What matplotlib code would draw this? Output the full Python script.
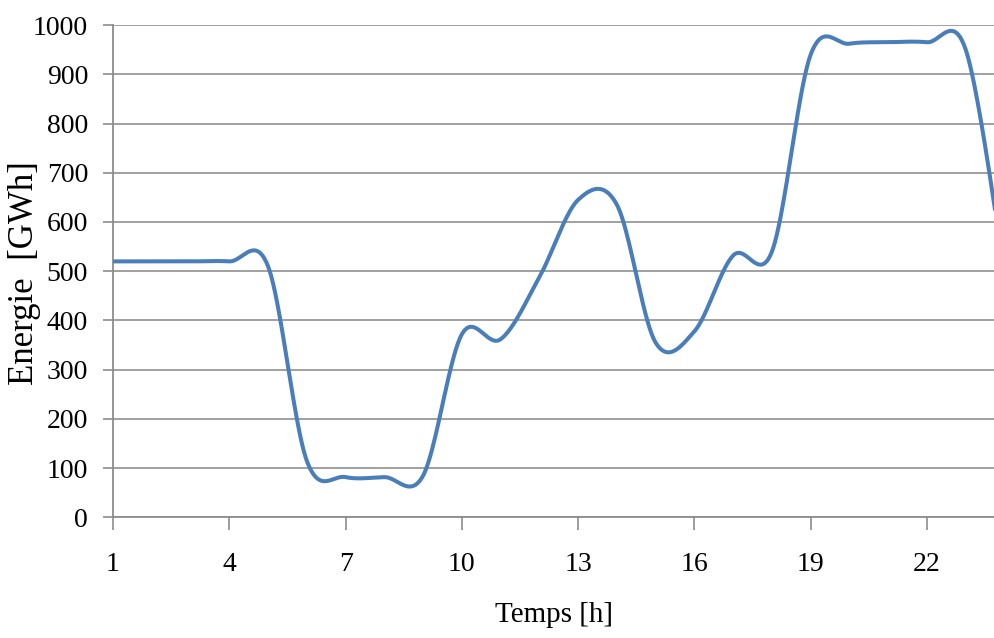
import matplotlib.pyplot as plt
import numpy as np

heures = list(range(1, 25))
energie = [520, 520, 520, 520, 510, 115, 82, 82, 85, 372, 362, 488,
           645, 635, 355, 378, 532, 540, 940, 962, 965, 965, 950, 500]
xticks = [1, 4, 7, 10, 13, 16, 19, 22]
yticks = list(range(0, 1001, 100))


def lissage_excel(x, y, n=40):
    # courbe lissee type Excel (Bezier, tangentes de Catmull-Rom)
    x = np.asarray(x, float)
    y = np.asarray(y, float)
    px = np.concatenate([[x[0]], x, [x[-1]]])
    py = np.concatenate([[y[0]], y, [y[-1]]])
    xs, ys = [], []
    t = np.linspace(0, 1, n)[:, None]
    for i in range(1, len(px) - 2):
        p0 = np.array([px[i], py[i]])
        p3 = np.array([px[i + 1], py[i + 1]])
        c1 = p0 + (np.array([px[i + 1], py[i + 1]]) - np.array([px[i - 1], py[i - 1]])) / 6
        c2 = p3 - (np.array([px[i + 2], py[i + 2]]) - p0) / 6
        b = (1 - t) ** 3 * p0 + 3 * (1 - t) ** 2 * t * c1 + 3 * (1 - t) * t ** 2 * c2 + t ** 3 * p3
        xs.extend(b[:, 0])
        ys.extend(b[:, 1])
    return xs, ys


plt.rcParams['font.family'] = ['Liberation Serif', 'DejaVu Serif']

fig = plt.figure(figsize=(9.95, 6.38), dpi=100)
ax = fig.add_axes([0.1136, 0.1889, 0.8864, 0.7719])

xs, ys = lissage_excel(heures, energie)
ax.plot(xs, ys, color='#4a7ebb', linewidth=2.9, solid_capstyle='round', zorder=3)

ax.set_xlim(1, 1 + 882 / 38.76)
ax.set_ylim(0, 1000)
ax.set_xticks(xticks)
ax.set_yticks(yticks)
ax.yaxis.grid(True, color='#a0a0a0', linewidth=1.4)
ax.set_axisbelow(True)

for s in ['top', 'right']:
    ax.spines[s].set_visible(False)
for s in ['left', 'bottom']:
    ax.spines[s].set_color('#8c8c8c')
    ax.spines[s].set_linewidth(1.3)

ax.tick_params(axis='y', direction='out', length=7, width=1.2, color='#8c8c8c',
               pad=11, labelsize=20)
ax.tick_params(axis='x', direction='out', length=9, width=1.2, color='#8c8c8c',
               pad=16, labelsize=20)

ax.set_xlabel('Temps [h]', fontsize=21, va='top')
ax.xaxis.set_label_coords(0.5, -0.172)
fig.text(25 / 995, 1 - 273 / 638, 'Energie  [GWh]', rotation=90,
         ha='center', va='center', fontsize=25)

fig.savefig('out.png', dpi=100)
